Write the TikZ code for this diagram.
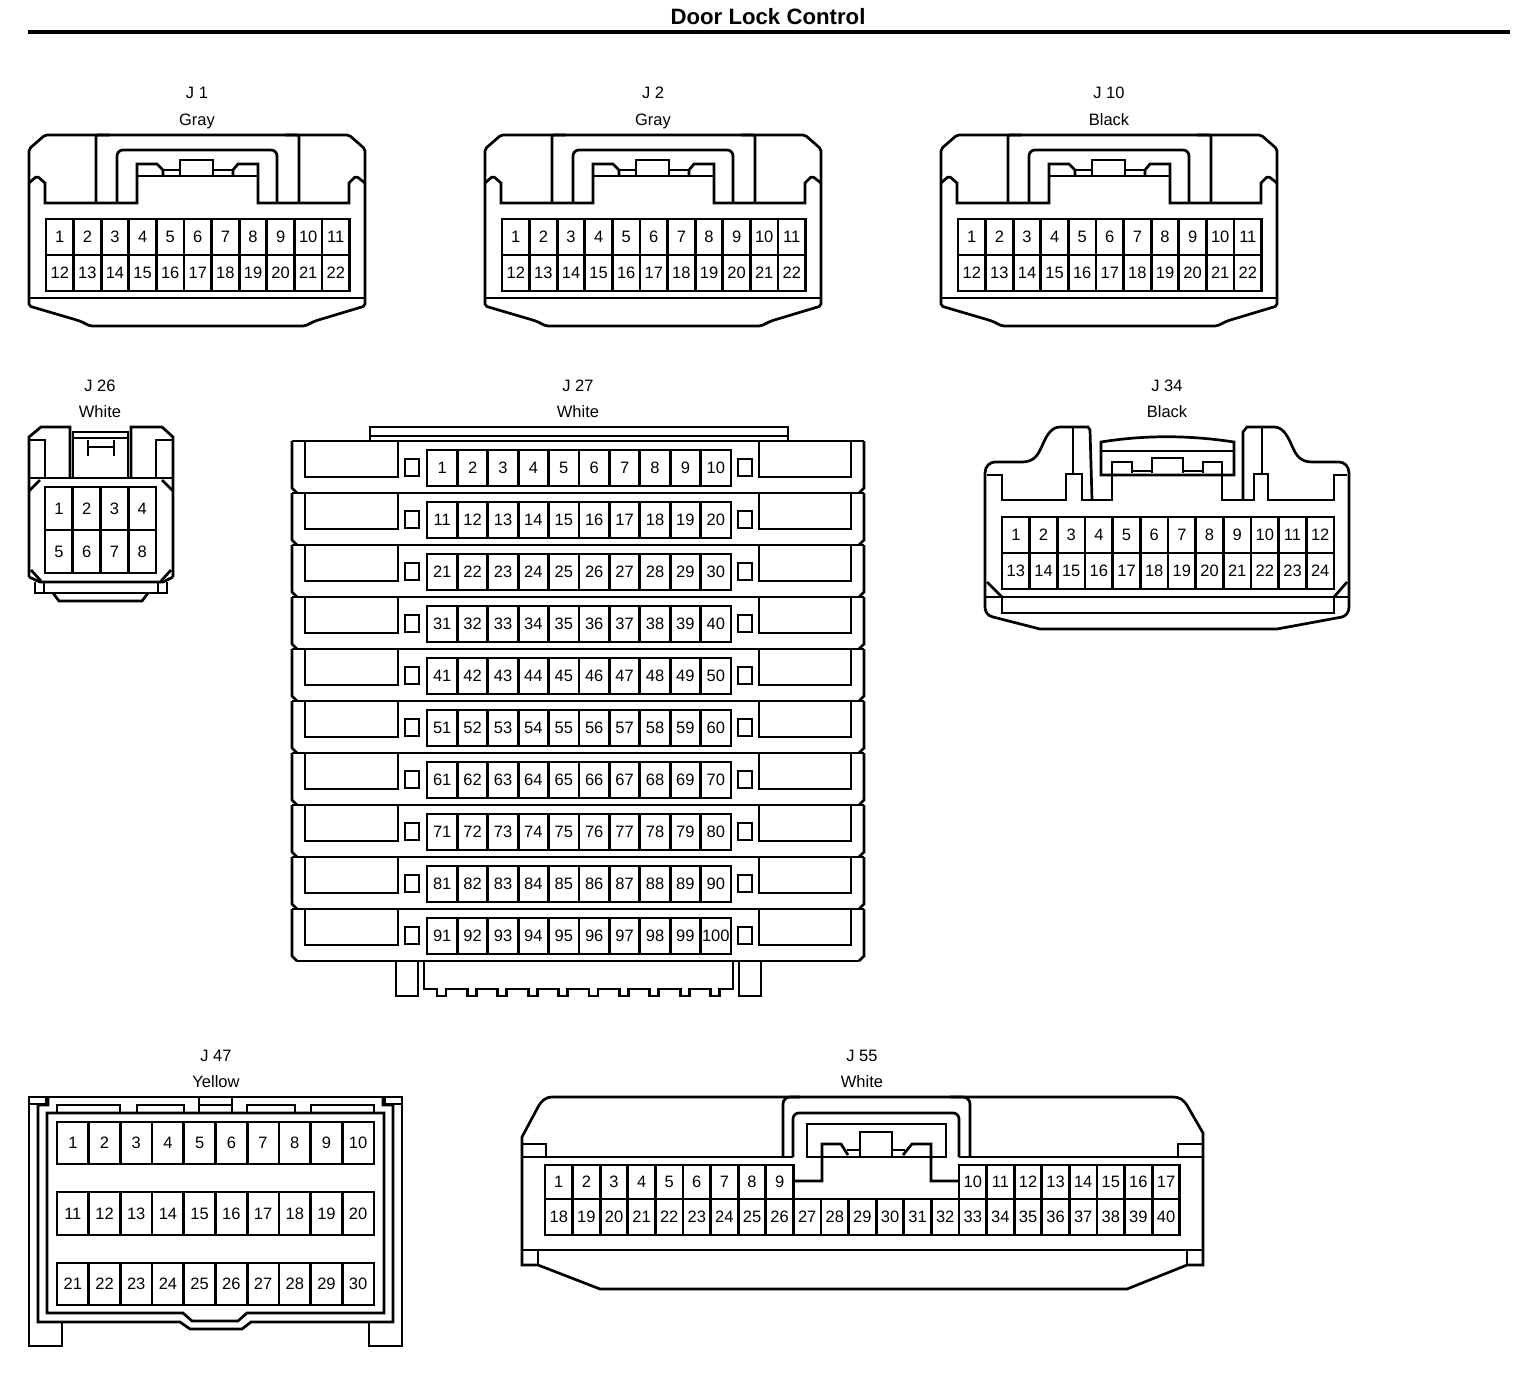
\documentclass[tikz,border=0pt]{standalone}
\usepackage{fontspec}
\setmainfont{Liberation Sans}
\usepackage{tikz}
\usetikzlibrary{positioning}
\newcommand{\pinrow}[7]{%
    \foreach \n [count=\c from 0] in {#2,...,#3}
        \node (#1p\n) [pinbox, minimum width=#5pt, minimum height={((#7)-(#6))*1pt}] at ({#4+(\c+.5)*#5},{((#6)+(#7))/2}) {\n};
}
\begin{document}
\begin{tikzpicture}[x=1pt, y=-1pt, line width=2.7pt, line join=miter]
    % Define styles
    \tikzstyle{pinbox} = [rectangle, draw=black, line width=2.7pt, inner sep=0pt, outer sep=0pt, text centered, font=\fontsize{16.5}{16.5}\selectfont]
    \tikzstyle{jack} = [anchor=base, inner sep=0pt, font=\fontsize{16.5}{16.5}\selectfont]
    \tikzstyle{shell} = [draw=black, rounded corners=2pt]

    \useasboundingbox (0,0) rectangle (1536,1378);

    % Title
    \node (title) [anchor=base, inner sep=0pt, font=\fontsize{22.2}{22.2}\selectfont\bfseries] at (768,25) {Door Lock Control};
    \coordinate (ruleL) at (28,32);
    \coordinate (ruleR) at (1510,32);
    \draw [line width=3.2pt] (ruleL) -- (ruleR);

    % J1, J2, J10 share one housing
    \foreach \dx/\tag/\jname/\jcolor in {0/j1/J 1/Gray, 456/j2/J 2/Gray, 912/j10/J 10/Black} {
        \begin{scope}[xshift=\dx pt]
            \node (\tag name) [jack] at (197,99) {\jname};
            \node (\tag color) [jack] at (197,125) {\jcolor};
            \draw [shell] (45,135) -- (349,135) -- (365,149) -- (365,306) -- (315,321) -- (305,326) -- (90,326) -- (80,321) -- (29,306) -- (29,149) -- cycle;
            \draw (29,298) -- (365,298);
            \draw [shell] (29,183) -- (37,176) -- (45,183);
            \draw (45,182) -- (45,203) -- (137,203) -- (137,164) -- (157,164) -- (163,170) -- (163,176);
            \draw [shell] (365,183) -- (356,176) -- (349,183);
            \draw (349,182) -- (349,203) -- (258,203) -- (258,164) -- (238,164) -- (233,170) -- (233,176);
            \draw (137,176) -- (258,176);
            \draw (180,176) -- (180,160) -- (213,160) -- (213,176);
            \draw (163,170) -- (180,170) (213,170) -- (233,170);
            \draw [shell] (96,203) -- (96,135) -- (110,135);
            \draw [shell] (299,203) -- (299,135) -- (285,135);
            \draw [shell, rounded corners=6pt] (117,203) -- (117,150) -- (277,150) -- (277,203);
            \pinrow{\tag}{1}{11}{46}{27.6}{219}{255}
            \pinrow{\tag}{12}{22}{46}{27.6}{255}{291}
        \end{scope}
    }

    % J26
    \node (j26name) [jack] at (100,391) {J 26};
    \node (j26color) [jack] at (100,417) {White};
    \draw (29,577) -- (29,437) -- (41,427) -- (70,427) -- (70,478);
    \draw (173,577) -- (173,437) -- (162,427) -- (131,427) -- (131,478);
    \draw (73,477) -- (73,432) -- (128,432) -- (128,477);
    \draw (73,438) -- (128,438);
    \draw (88,456) -- (88,440) (114,456) -- (114,440) (88,447) -- (114,447);
    \draw (29,440) -- (45,440) -- (45,478) (173,440) -- (156,440) -- (156,478);
    \draw (29,478) -- (173,478);
    \draw (29,491) -- (40,480) (173,491) -- (162,480);
    \draw (29,577) -- (40,582) -- (163,582) -- (173,577);
    \draw (31,570) -- (41,581) (171,570) -- (161,581);
    \draw (35,582) -- (35,593) -- (167,593) -- (167,582);
    \draw (44,582) -- (44,593) (158,582) -- (158,593);
    \draw (53,593) -- (59,601) -- (142,601) -- (148,593);
    \pinrow{j26}{1}{4}{45}{27.75}{487}{530}
    \pinrow{j26}{5}{8}{45}{27.75}{530}{573}

    % J27
    \node (j27name) [jack] at (578,391) {J 27};
    \node (j27color) [jack] at (578,417) {White};
    \draw (370,441) -- (370,427) -- (788,427) -- (788,441);
    \draw (370,436) -- (788,436);
    \foreach \r in {0,...,9} {
        \pgfmathsetmacro{\rt}{441+52*\r}
        \pgfmathtruncatemacro{\first}{10*\r+1}
        \pgfmathtruncatemacro{\last}{10*\r+10}
        \draw (292,\rt) -- (864,\rt);
        \draw (292,\rt) -- (292,\rt+47) -- (297,\rt+52);
        \draw (864,\rt) -- (864,\rt+47) -- (859,\rt+52);
        \draw (305,\rt) -- (305,\rt+36) -- (398,\rt+36) -- (398,\rt);
        \draw (851,\rt) -- (851,\rt+36) -- (759,\rt+36) -- (759,\rt);
        \draw (405,\rt+18) rectangle (419,\rt+35);
        \draw (738,\rt+18) rectangle (752,\rt+35);
        \pinrow{j27}{\first}{\last}{427}{30.4}{\rt+9}{\rt+45}
    }
    \draw (297,961) -- (859,961);
    \draw (396,961) -- (396,996) -- (418,996) -- (418,961);
    \draw (739,961) -- (739,996) -- (761,996) -- (761,961);
    \draw (424,961) -- (424,989) \foreach \t in {0,...,9} { -- ({437+30.4*\t},989) -- ({437+30.4*\t},996) -- ({446+30.4*\t},996) -- ({446+30.4*\t},989) } -- (733,989) -- (733,961);

    % J34
    \node (j34name) [jack] at (1167,391) {J 34};
    \node (j34color) [jack] at (1167,417) {Black};
    \draw (985,607) -- (985,473) .. controls (985,466) and (990,462) .. (995,462) -- (1022,462) .. controls (1034,462) and (1038,455) .. (1042,446) .. controls (1047,434) and (1052,427) .. (1060,427) -- (1088,427) -- (1090,430) -- (1092,500);
    \draw (1349,607) -- (1349,473) .. controls (1349,466) and (1344,462) .. (1339,462) -- (1312,462) .. controls (1300,462) and (1296,455) .. (1292,446) .. controls (1287,434) and (1282,427) .. (1274,427) -- (1247,427) -- (1243,432) -- (1243,500);
    \draw (985,607) .. controls (985,612) and (988,616) .. (993,617) -- (1040,629) -- (1277,629) -- (1342,617) .. controls (1346,616) and (1349,612) .. (1349,607);
    \draw (987,475) -- (1002,475) -- (1002,500) -- (1066,500) -- (1066,474) -- (1082,474) -- (1082,500) -- (1112,500) -- (1112,475);
    \draw (1347,475) -- (1334,475) -- (1334,500) -- (1268,500) -- (1268,474) -- (1254,474) -- (1254,500) -- (1222,500) -- (1222,475);
    \draw (1073,427) -- (1073,474) (1262,427) -- (1262,474);
    \draw (1101,475) -- (1101,442) .. controls (1145,435) and (1188,435) .. (1234,442) -- (1234,475) -- cycle;
    \draw (1101,451) -- (1234,451);
    \draw (1112,475) -- (1112,462) -- (1132,462) -- (1132,473);
    \draw (1132,471) -- (1152,471) (1183,471) -- (1203,471);
    \draw (1152,473) -- (1152,458) -- (1183,458) -- (1183,473);
    \draw (1203,473) -- (1203,462) -- (1222,462) -- (1222,475);
    \draw (985,597) -- (1349,597);
    \draw (1002,597) -- (1002,613) -- (1334,613) -- (1334,597);
    \draw (987,582) -- (1002,597) (1347,582) -- (1334,597);
    \pinrow{j34}{1}{12}{1002}{27.67}{517}{553}
    \pinrow{j34}{13}{24}{1002}{27.67}{553}{589}

    % J47
    \node (j47name) [jack] at (216,1061) {J 47};
    \node (j47color) [jack] at (216,1087) {Yellow};
    \draw (62,1322) -- (62,1346) -- (29,1346) -- (29,1097) -- (402,1097) -- (402,1346) -- (369,1346) -- (369,1322);
    \draw (29,1104) -- (46,1104) -- (46,1097) (402,1104) -- (385,1104) -- (385,1097);
    \draw (48,1097) -- (48,1105) -- (38,1105) -- (38,1322) -- (180,1322) -- (190,1329) -- (242,1329) -- (251,1322) -- (393,1322) -- (393,1105) -- (383,1105) -- (383,1097);
    \draw (47,1113) -- (384,1113) -- (384,1313) -- (247,1313) -- (238,1321) -- (192,1321) -- (183,1313) -- (47,1313) -- cycle;
    \draw (57,1113) -- (57,1105) -- (120,1105) -- (120,1113);
    \draw (137,1113) -- (137,1105) -- (184,1105) -- (184,1113);
    \draw (199,1097) -- (199,1113) (232,1097) -- (232,1113) (199,1105) -- (232,1105);
    \draw (247,1113) -- (247,1105) -- (295,1105) -- (295,1113);
    \draw (311,1113) -- (311,1105) -- (374,1105) -- (374,1113);
    \pinrow{j47}{1}{10}{57}{31.7}{1122}{1164}
    \pinrow{j47}{11}{20}{57}{31.7}{1192}{1235}
    \pinrow{j47}{21}{30}{57}{31.7}{1263}{1305}

    % J55
    \node (j55name) [jack] at (862,1061) {J 55};
    \node (j55color) [jack] at (862,1087) {White};
    \draw (522,1137) -- (538,1107) .. controls (542,1100) and (546,1097) .. (552,1097) -- (1173,1097) .. controls (1180,1097) and (1184,1100) .. (1188,1107) -- (1203,1133) -- (1203,1265) -- (1187,1265) -- (1127,1289) -- (600,1289) -- (538,1265) -- (522,1265) -- cycle;
    \draw (522,1157) -- (793,1157) (959,1157) -- (1203,1157);
    \draw (522,1144) -- (546,1144) -- (546,1157) (1203,1144) -- (1178,1144) -- (1178,1157);
    \draw (522,1250) -- (1203,1250);
    \draw (538,1250) -- (538,1265) (1187,1250) -- (1187,1265);
    \draw [shell, rounded corners=7pt] (783,1157) -- (783,1097) -- (800,1097);
    \draw [shell, rounded corners=7pt] (970,1157) -- (970,1097) -- (950,1097);
    \draw [shell, rounded corners=6pt] (793,1157) -- (793,1113) -- (959,1113) -- (959,1157);
    \draw (807,1157) -- (807,1124) -- (946,1124) -- (946,1157) -- cycle;
    \draw (795,1181) -- (822,1181) -- (822,1144) -- (841,1144) -- (848,1155);
    \draw (847,1150) -- (860,1150) (892,1150) -- (905,1150);
    \draw (860,1157) -- (860,1132) -- (892,1132) -- (892,1157);
    \draw (903,1155) -- (912,1144) -- (931,1144) -- (931,1181) -- (959,1181);
    \pinrow{j55}{1}{9}{545}{27.6}{1165}{1199}
    \pinrow{j55}{10}{17}{959}{27.6}{1165}{1199}
    \pinrow{j55}{18}{40}{545}{27.6}{1199}{1235}
\end{tikzpicture}
\end{document}
